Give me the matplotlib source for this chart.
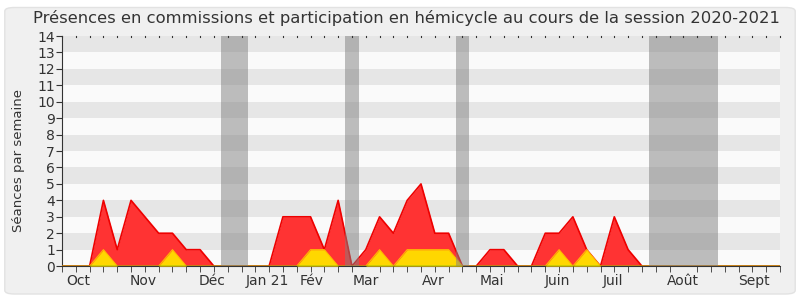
import numpy as np
import matplotlib.pyplot as plt
from matplotlib.patches import FancyBboxPatch

# weekly values, session 2020-2021 (week 0 = start of October)
weeks = np.arange(53)
commissions = [0, 0, 0, 4, 1, 4, 3, 2, 2, 1, 1, 0, 0, 0, 0, 0, 3, 3, 3, 1,
               4, 0, 1, 3, 2, 4, 5, 2, 2, 0, 0, 1, 1, 0, 0, 2, 2, 3, 1, 0,
               3, 1, 0, 0, 0, 0, 0, 0, 0, 0, 0, 0, 0]
hemicycle = [0, 0, 0, 1, 0, 0, 0, 0, 1, 0, 0, 0, 0, 0, 0, 0, 0, 0, 1, 1,
             0, 0, 0, 1, 0, 1, 1, 1, 1, 0, 0, 0, 0, 0, 0, 0, 1, 0, 1, 0,
             0, 0, 0, 0, 0, 0, 0, 0, 0, 0, 0, 0, 0]
questions = [0] * 53

vacances = [(11.5, 13.5), (20.5, 21.5), (28.5, 29.5), (42.5, 47.5)]

mois = ["Oct", "Nov", "Déc", "Jan 21", "Fév", "Mar", "Avr", "Mai", "Juin",
        "Juil", "Août", "Sept"]
mois_pos = [1.2, 5.9, 10.9, 14.9, 18.1, 22.0, 26.9, 31.1, 35.9, 39.9, 45.0, 50.1]

plt.rcParams['font.family'] = ['DejaVu Sans']

fig = plt.figure(figsize=(8, 3), dpi=100)
fig.patch.set_facecolor('white')
bg = FancyBboxPatch((0.006, 0.02), 0.988, 0.955, boxstyle="round,pad=0,rounding_size=0.012",
                    transform=fig.transFigure, facecolor='#f0f0f0', edgecolor='#e2e2e2',
                    lw=1, zorder=-10)
fig.patches.append(bg)

ax = fig.add_axes([0.0775, 0.113, 0.8975, 0.767])
ax.set_facecolor('#fafafa')

# alternating stripes
for k in range(14):
    if k % 2 == 1:
        ax.axhspan(k, k + 1, color='#e6e6e6', lw=0, zorder=0)

ax.fill_between(weeks, commissions, color='#ff3333', lw=0, zorder=2)
ax.plot(weeks, commissions, color='#ee0000', lw=1.2, zorder=3)
ax.fill_between(weeks, hemicycle, color='#ffd700', lw=0, zorder=4)
ax.plot(weeks, hemicycle, color='#ffbb00', lw=0.8, zorder=4)
ax.plot(weeks, questions, color='#00aa00', lw=1, zorder=5)

for a, b in vacances:
    ax.axvspan(a, b, color='#808080', alpha=0.5, lw=0, zorder=6)

ax.set_xlim(0, 52)
ax.set_ylim(0, 14)
ax.set_yticks(range(15))
ax.tick_params(axis='y', labelsize=10, length=4, pad=1, colors='#333333')

ax.set_xticks(mois_pos)
ax.set_xticklabels(mois)
ax.tick_params(axis='x', which='major', length=0, labelsize=10, pad=6, colors='#333333')
ax.set_xticks(weeks, minor=True)
ax.tick_params(axis='x', which='minor', length=4, color='#333333', direction='out')
# tiny dotted marks along the top edge
for w in weeks:
    ax.plot([w, w], [13.93, 14], color='#333333', lw=0.8, zorder=7, clip_on=False)

for s in ['top', 'right']:
    ax.spines[s].set_visible(False)
ax.spines['left'].set_color('#333333')
ax.spines['bottom'].set_color('#333333')

ax.set_ylabel("Séances par semaine", fontsize=9.5, color='#333333')
ax.yaxis.set_label_coords(-0.0515, 0.457)
ax.set_title("Présences en commissions et participation en hémicycle au cours de la session 2020-2021",
             fontsize=11.8, color='#333333', pad=9, x=0.48)

fig.savefig("out.png", dpi=100)
